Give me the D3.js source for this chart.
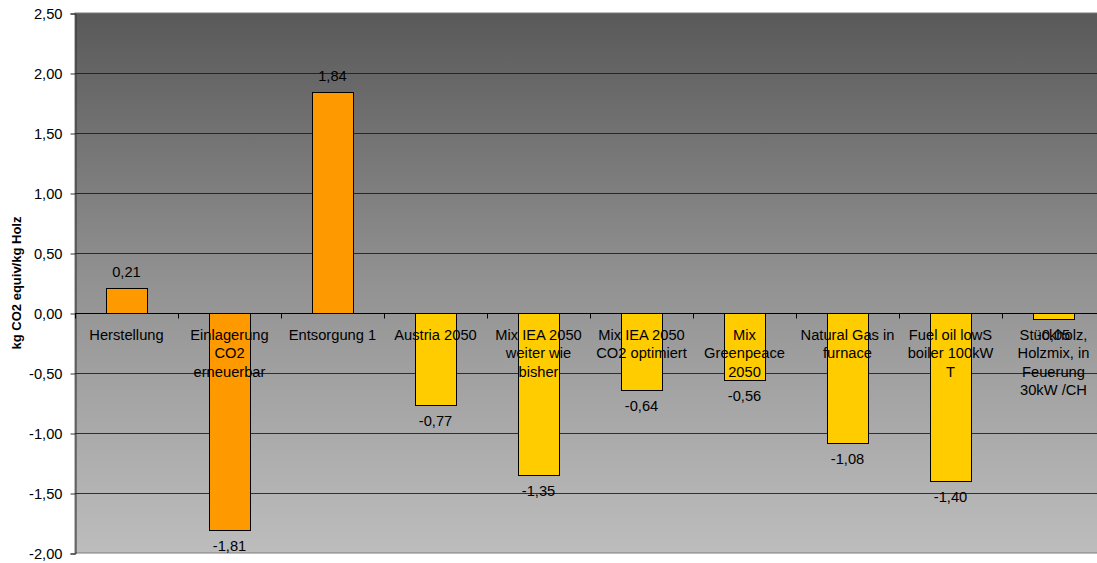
<!DOCTYPE html>
<html><head><meta charset="utf-8">
<script src="https://cdn.jsdelivr.net/npm/d3@7"></script>
<style>body{margin:0;background:#fff}svg{display:block}</style>
</head><body>
<script>
const categories = [
  ["Herstellung"],
  ["Einlagerung","CO2","erneuerbar"],
  ["Entsorgung 1"],
  ["Austria 2050"],
  ["Mix IEA 2050","weiter wie","bisher"],
  ["Mix IEA 2050","CO2 optimiert"],
  ["Mix","Greenpeace","2050"],
  ["Natural Gas in","furnace"],
  ["Fuel oil lowS","boiler 100kW","T"],
  ["Stückholz,","Holzmix, in","Feuerung","30kW /CH"]
];
const values = [0.21, -1.81, 1.84, -0.77, -1.35, -0.64, -0.56, -1.08, -1.40, -0.05];
const groups = ["a","a","a","b","b","b","b","b","b","b"];
const yTicks = [2.5, 2.0, 1.5, 1.0, 0.5, 0.0, -0.5, -1.0, -1.5, -2.0];
const yTitle = "kg CO2 equiv/kg Holz";

const W = 1097, H = 563;
const pLeft = 75, pRight = 1105, pTop = 13, pBottom = 553;
const font = "Arial, 'Liberation Sans', sans-serif";
const fmt = v => v.toFixed(2).replace(".", ",");

const svg = d3.select("body").append("svg").attr("width", W).attr("height", H);
const defs = svg.append("defs");
const grad = defs.append("linearGradient").attr("id","bg").attr("x1",0).attr("y1",0).attr("x2",0).attr("y2",1);
grad.append("stop").attr("offset",0).attr("stop-color","#595959");
grad.append("stop").attr("offset",0.5).attr("stop-color","#929292");
grad.append("stop").attr("offset",1).attr("stop-color","#bdbdbd");

const x = d3.scaleBand().domain(d3.range(categories.length)).range([pLeft, pRight]).paddingInner(0).paddingOuter(0);
const y = d3.scaleLinear().domain([-2, 2.5]).range([pBottom, pTop]);
const color = d3.scaleOrdinal().domain(["a","b"]).range(["#FF9900","#FFCC00"]);

svg.append("rect").attr("x", pLeft).attr("y", pTop).attr("width", pRight-pLeft).attr("height", pBottom-pTop)
  .attr("fill","url(#bg)").attr("stroke","#7a7a7a").attr("stroke-width",1);

// gridlines
svg.append("g").selectAll("line").data(yTicks.filter(t => t < 2.5 && t > -2)).join("line")
  .attr("x1", pLeft).attr("x2", pRight)
  .attr("y1", d => Math.round(y(d)) + 0.5).attr("y2", d => Math.round(y(d)) + 0.5)
  .attr("stroke", "#1a1a1a").attr("stroke-width", 1).attr("opacity", 0.85);

// y axis
const yAxis = d3.axisLeft(y).tickValues(yTicks).tickFormat(fmt).tickSize(5).tickPadding(8);
const ga = svg.append("g").attr("transform", `translate(${pLeft+0.5},0.5)`).call(yAxis);
ga.select(".domain").attr("stroke","#333");
ga.selectAll(".tick line").attr("stroke","#333");
ga.selectAll(".tick text").attr("font-family", font).attr("font-size", "14.7px").attr("fill","#000");

// y title
svg.append("text").attr("transform", `translate(21,${(pTop+pBottom)/2}) rotate(-90)`)
  .attr("text-anchor","middle").attr("font-family", font).attr("font-weight","bold")
  .attr("font-size","13px").text(yTitle);

// bars
svg.append("g").selectAll("rect").data(values).join("rect")
  .attr("x", (d,i) => Math.round(x(i) + x.bandwidth()*0.3) + 0.5)
  .attr("width", Math.round(x.bandwidth()*0.4))
  .attr("y", d => Math.round(y(Math.max(0,d))) + 0.5)
  .attr("height", d => Math.abs(Math.round(y(d)) - Math.round(y(0))))
  .attr("fill", (d,i) => color(groups[i])).attr("stroke","#000").attr("stroke-width",1);

// x axis line and ticks at zero
const y0 = Math.round(y(0)) + 0.5;
svg.append("line").attr("x1", pLeft).attr("x2", pRight).attr("y1", y0).attr("y2", y0).attr("stroke","#000");
svg.append("g").selectAll("line").data(d3.range(categories.length+1)).join("line")
  .attr("x1", i => Math.round(pLeft + i*x.step()) + 0.5).attr("x2", i => Math.round(pLeft + i*x.step()) + 0.5)
  .attr("y1", y0).attr("y2", y0 + 5).attr("stroke","#000");

// category labels
const cl = svg.append("g").attr("font-family", font).attr("font-size","14.7px").attr("text-anchor","middle");
categories.forEach((lines, i) => {
  const t = cl.append("text").attr("x", x(i) + x.bandwidth()/2).attr("y", y(0) + 27);
  lines.forEach((ln, j) => t.append("tspan").attr("x", x(i) + x.bandwidth()/2).attr("dy", j === 0 ? 0 : 18.3).text(ln));
});

// value labels
svg.append("g").selectAll("text").data(values).join("text")
  .attr("x", (d,i) => x(i) + x.bandwidth()/2)
  .attr("y", d => d >= 0 ? y(d) - 11 : y(d) + 21)
  .attr("text-anchor","middle").attr("font-family", font).attr("font-size","14.7px")
  .text(d => fmt(d));
</script>
</body></html>
